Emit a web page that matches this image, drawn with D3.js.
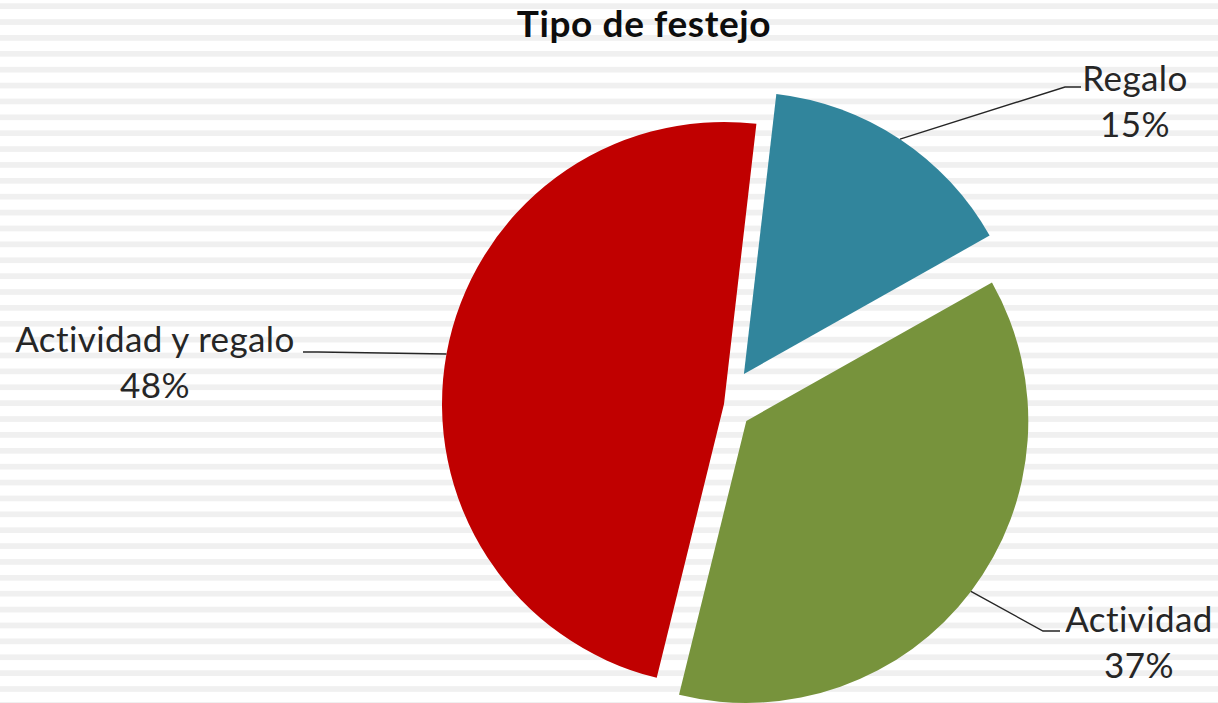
<!DOCTYPE html>
<html>
<head>
<meta charset="utf-8">
<script src="https://cdn.jsdelivr.net/npm/d3@7/dist/d3.min.js"></script>
<style>
  body { margin: 0; background: #fff; }
  svg { display: block; }
  text { font-family: Lato, "Noto Sans", sans-serif; fill: #262626; }
</style>
</head>
<body>
<div class="chart"></div>
<script>
// data
var categories = ["Regalo", "Actividad", "Actividad y regalo"];
var values = [15, 37, 48];
var pctLabels = ["15%", "37%", "48%"];
var colors = ["#31859c", "#77933c", "#c00000"];

var width = 1218,
    height = 703;

// pie layout
var cx = 724, cy = 404, radius = 282;
var startDeg = 6.6;
// how far each slice is pulled out of the pie
var explode = { "Regalo": 36, "Actividad": 28, "Actividad y regalo": 0 };
// label anchors: elbow of leader, end of leader, text centre, baseline
var labelPos = {
  "Regalo":             { elbow: [1065, 87],  end: [1081, 87],  x: 1135, y: 91 },
  "Actividad":          { elbow: [1043, 631], end: [1060, 631], x: 1139, y: 632 },
  "Actividad y regalo": { elbow: [318, 352],  end: [303, 352],  x: 155,  y: 352 }
};

var svg = d3.select(".chart").append("svg")
    .attr("width", width)
    .attr("height", height);

// striped background
var stripeStep = 15.88;
svg.append("g").selectAll("rect")
  .data(d3.range(0, Math.ceil(height / stripeStep) + 1))
  .join("rect")
    .attr("x", 0)
    .attr("y", function(i) { return 3.3 + i * stripeStep; })
    .attr("width", width)
    .attr("height", 5.7)
    .attr("fill", "#f0f0f0");

svg.append("text")
    .attr("x", 644)
    .attr("y", 37)
    .attr("text-anchor", "middle")
    .style("font-weight", "bold")
    .style("font-size", "37px")
    .style("letter-spacing", "0.6px")
    .style("fill", "#0d0d0d")
    .text("Tipo de festejo");

var rows = categories.map(function(c, i) {
  return { name: c, value: values[i], pct: pctLabels[i], color: colors[i] };
});

var a0 = startDeg * Math.PI / 180;
var pie = d3.pie()
    .sort(null)
    .value(function(d) { return d.value; })
    .startAngle(a0)
    .endAngle(a0 + 2 * Math.PI);

var arc = d3.arc().innerRadius(0).outerRadius(radius);

var arcs = pie(rows);

function mid(d) { return (d.startAngle + d.endAngle) / 2; }
function offset(d) {
  var m = mid(d), e = explode[d.data.name];
  return [Math.sin(m) * e, -Math.cos(m) * e];
}

var g = svg.append("g").attr("transform", "translate(" + cx + "," + cy + ")");

g.selectAll("path.slice")
  .data(arcs)
  .join("path")
    .attr("class", "slice")
    .attr("d", arc)
    .attr("fill", function(d) { return d.data.color; })
    .attr("transform", function(d) { return "translate(" + offset(d) + ")"; });

// leader lines
svg.append("g").selectAll("polyline")
  .data(arcs)
  .join("polyline")
    .attr("fill", "none")
    .attr("stroke", "#262626")
    .attr("stroke-width", 1.4)
    .attr("points", function(d) {
      var o = offset(d), m = mid(d), p = labelPos[d.data.name];
      var sx = cx + o[0] + Math.sin(m) * radius,
          sy = cy + o[1] - Math.cos(m) * radius;
      return [[sx, sy], p.elbow, p.end].join(" ");
    });

// labels
var lab = svg.append("g").selectAll("text")
  .data(arcs)
  .join("text")
    .attr("text-anchor", "middle")
    .style("font-size", "35px")
    .style("letter-spacing", "0.4px")
    .attr("x", function(d) { return labelPos[d.data.name].x; })
    .attr("y", function(d) { return labelPos[d.data.name].y; });

lab.append("tspan")
    .attr("x", function(d) { return labelPos[d.data.name].x; })
    .text(function(d) { return d.data.name; });
lab.append("tspan")
    .attr("x", function(d) { return labelPos[d.data.name].x; })
    .attr("dy", 46)
    .text(function(d) { return d.data.pct; });
</script>
</body>
</html>
